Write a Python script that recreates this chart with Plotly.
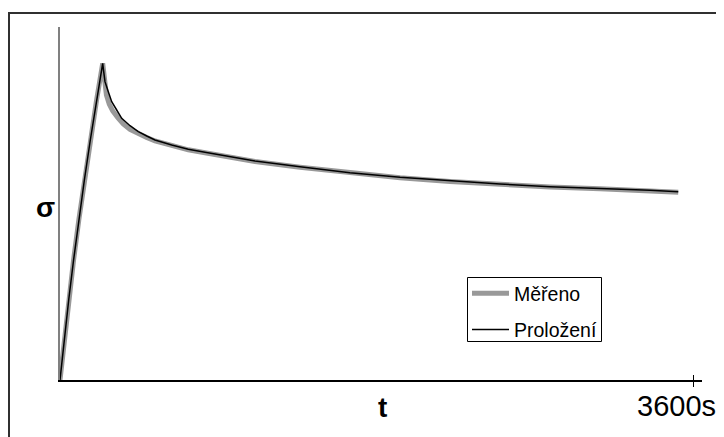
import plotly.graph_objects as go

# time [s] and stress (arbitrary units)
t_rise = [0, 23.8, 49.5, 77.2, 106.9, 138.6, 172.4, 208.1, 242.8]
s_rise = [0, 4.0, 8.0, 12.0, 16.0, 20.0, 24.0, 28.0, 31.67]

t_fit_decay = [248.5, 255.9, 274.7, 294, 322.4, 350.9, 398.1, 445.3, 493.1, 540.3, 635.2, 729.6, 824.6, 919.6,
               1014, 1109, 1365, 1649, 1934, 2218, 2502, 2787, 3071, 3355, 3516]
s_fit_decay = [30.83, 29.83, 28.83, 27.83, 27.0, 26.17, 25.43, 24.83, 24.4, 24.0, 23.5, 23.07, 22.77, 22.5,
               22.17, 21.9, 21.33, 20.73, 20.27, 19.9, 19.6, 19.33, 19.17, 18.97, 18.83]

t_meas_decay = [246.5, 252, 264, 280, 300, 330, 360, 398.1, 445.3, 493.1, 540.3, 635.2, 729.6, 824.6, 919.6,
                1014, 1109, 1365, 1649, 1934, 2218, 2502, 2787, 3071, 3355, 3516]
s_meas_decay = [30.9, 29.6, 28.5, 27.6, 26.9, 26.2, 25.6, 25.05, 24.6, 24.25, 23.9, 23.45, 23.02, 22.72, 22.45,
                22.12, 21.85, 21.28, 20.7, 20.22, 19.85, 19.56, 19.3, 19.12, 18.93, 18.78]

t_meas = t_rise + t_meas_decay
s_meas = s_rise + s_meas_decay
t_fit = t_rise + t_fit_decay
s_fit = s_rise + s_fit_decay

x_tick = [3600]
x_tick_text = ["3600s"]

font = "Arial, Liberation Sans, sans-serif"

# the page body has an 8px margin: figure origin sits at (8, 8) in the window
OX, OY = 8, 8
L, T = 60 - OX, 27 - OY
PW, PH = 642, 353


def px(x):
    return (x - 60) / PW


def py(y):
    return (380 - y) / PH


fig = go.Figure()
fig.add_trace(go.Scatter(x=t_meas, y=s_meas, mode="lines", name="Měřeno", legendgroup="a",
                         line=dict(color="#999999", width=5)))
fig.add_trace(go.Scatter(x=t_fit, y=s_fit, mode="lines", name="Proložení", legendgroup="b",
                         line=dict(color="#000000", width=1.5)))
fig.add_trace(go.Scatter(x=[0], y=[0], xaxis="x2", mode="none", showlegend=False, hoverinfo="skip"))

fig.update_layout(
    width=724 - OX, height=437 - OY,
    margin=dict(l=L, r=724 - OX - L - PW, t=T, b=437 - OY - T - PH, autoexpand=False),
    paper_bgcolor="white", plot_bgcolor="white",
    font=dict(family=font, color="black"),
    showlegend=True,
    legend=dict(x=px(467), y=py(274), xanchor="left", yanchor="top",
                bgcolor="rgba(0,0,0,0)", borderwidth=0,
                font=dict(size=19.5, family=font), itemwidth=37,
                tracegroupgap=8),
    xaxis=dict(range=[0, 3651], showgrid=False, zeroline=False,
               showline=True, linecolor="black", linewidth=1.5,
               tickvals=x_tick, ticktext=[""], ticks="outside", ticklen=5,
               tickcolor="black", tickwidth=1),
    xaxis2=dict(range=[0, 3651], overlaying="x", matches="x", side="bottom",
                showgrid=False, zeroline=False, showline=False,
                tickvals=x_tick, ticktext=[""], ticks="inside", ticklen=5,
                tickcolor="black", tickwidth=1),
    yaxis=dict(range=[0, 35.3], showgrid=False, zeroline=False,
               showline=True, linecolor="#808080", linewidth=1.5,
               showticklabels=False, ticks=""),
    shapes=[
        dict(type="rect", xref="paper", yref="paper",
             x0=(8 - 60 + 1) / PW, x1=(740 - 60) / PW,
             y0=py(450), y1=py(13),
             line=dict(color="#303030", width=2), fillcolor="rgba(0,0,0,0)", layer="below"),
        # legend frame
        dict(type="rect", xref="paper", yref="paper",
             x0=px(467.5), x1=px(601.5), y0=py(341.5), y1=py(277.5),
             line=dict(color="black", width=1), fillcolor="white", layer="above"),
    ],
    annotations=[
        dict(x=x_tick[0], xref="x", y=0, yref="paper", text=x_tick_text[0], showarrow=False,
             xanchor="center", yanchor="top", xshift=-17, yshift=-8,
             font=dict(size=29, family=font)),
        dict(x=0.5, xref="paper", y=0, yref="paper", text="<b>t</b>", showarrow=False,
             xanchor="center", yanchor="middle", xshift=1, yshift=-27,
             font=dict(size=28, family=font)),
        dict(x=0, xref="paper", y=0.5, yref="paper", text="<b>σ</b>", showarrow=False,
             xanchor="center", yanchor="middle", xshift=-15, yshift=-4,
             font=dict(size=28, family=font)),
    ],
)
fig.write_html("out.html")
